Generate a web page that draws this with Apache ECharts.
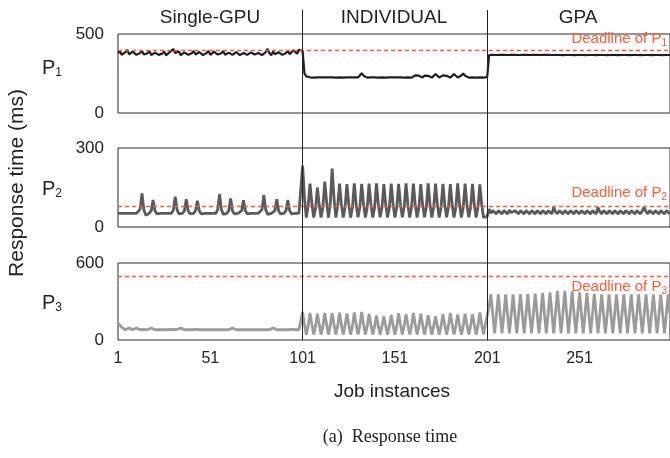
<!DOCTYPE html>
<html>
<head>
<meta charset="utf-8">
<script src="https://cdn.jsdelivr.net/npm/echarts@6/dist/echarts.min.js"></script>
<style>
  html, body { margin: 0; padding: 0; background: #fff; }
  #chart { width: 670px; height: 458px; }
</style>
</head>
<body>
<div id="chart"></div>
<script>
// 三个任务在三种调度方式下的响应时间
const phases = ['Single-GPU', 'INDIVIDUAL', 'GPA']
const xTicks = ['1', '51', '101', '151', '201', '251']
const yMax = [500, 300, 600]
const deadlines = [400, 80, 500]

// P1
const p1Single = [
  378, 392, 368, 362, 385, 400, 372, 365, 388, 395,
  368, 362, 380, 393, 370, 360, 378, 392, 366, 360,
  382, 394, 368, 362, 376, 390, 365, 360, 385, 396,
  405, 380, 372, 390, 366, 362, 384, 394, 368, 360,
  378, 392, 370, 362, 386, 395, 366, 360, 380, 393,
  368, 362, 388, 396, 370, 362, 378, 392, 368, 360,
  382, 394, 368, 362, 386, 394, 366, 360, 380, 392,
  368, 362, 384, 396, 370, 363, 380, 392, 366, 362,
  385, 406, 380, 365, 390, 372, 362, 385, 392, 368,
  362, 380, 394, 372, 378, 398, 404, 375, 400, 392
]
const p1Individual = [
  392, 250, 232, 228, 226, 225, 224, 225, 226, 225,
  225, 224, 225, 226, 225, 224, 225, 225, 224, 225,
  226, 225, 224, 225, 225, 224, 225, 226, 225, 224,
  225, 238, 252, 236, 225, 224, 225, 225, 224, 225,
  225, 224, 225, 226, 225, 224, 225, 225, 224, 225,
  226, 225, 224, 225, 225, 224, 225, 226, 225, 224,
  226, 238, 248, 236, 226, 224, 237, 247, 235, 225,
  224, 236, 247, 236, 225, 226, 238, 248, 235, 225,
  224, 236, 247, 235, 225, 225, 237, 250, 236, 225,
  224, 225, 226, 225, 224, 225, 226, 225, 224, 225
]
const p1Gpa = [
  228, 366, 369, 368, 368, 367, 368, 368, 367, 368,
  368, 367, 368, 368, 367, 368, 368, 367, 368, 368,
  367, 368, 368, 367, 368, 368, 367, 368, 368, 367,
  368, 368, 367, 368, 368, 367, 366, 367, 368, 367,
  367, 366, 367, 367, 366, 367, 367, 366, 367, 367,
  366, 367, 367, 366, 367, 367, 366, 367, 367, 366,
  367, 367, 366, 367, 367, 366, 367, 367, 366, 367,
  367, 366, 367, 367, 366, 367, 367, 366, 367, 367,
  366, 367, 367, 366, 367, 367, 366, 367, 367, 366,
  367, 367, 366, 367, 367, 366, 367, 367, 366, 367
]

// P2
const p2Single = [
  52, 52, 52, 52, 52, 52, 52, 52, 52, 52,
  52, 52, 68, 128, 66, 45, 50, 52, 62, 103,
  62, 50, 52, 52, 52, 52, 52, 52, 52, 52,
  65, 115, 65, 50, 52, 52, 62, 105, 62, 50,
  52, 52, 62, 100, 62, 50, 52, 52, 52, 52,
  52, 52, 52, 52, 66, 125, 66, 48, 52, 52,
  62, 108, 62, 50, 52, 52, 52, 62, 102, 62,
  50, 52, 52, 52, 52, 52, 52, 52, 66, 122,
  66, 48, 52, 52, 52, 62, 105, 62, 50, 52,
  52, 62, 103, 62, 50, 52, 52, 52, 52, 52
]
const p2Individual = [
  232, 110, 36, 80, 165, 90, 36, 70, 150, 85,
  36, 75, 172, 95, 36, 90, 222, 110, 36, 80,
  165, 85, 36, 75, 163, 85, 36, 75, 166, 85,
  37, 75, 164, 85, 36, 75, 165, 85, 36, 75,
  166, 85, 37, 75, 163, 85, 36, 75, 165, 85,
  36, 75, 164, 85, 37, 75, 166, 85, 36, 75,
  165, 85, 36, 75, 163, 85, 37, 75, 166, 85,
  36, 75, 165, 85, 36, 75, 164, 85, 37, 75,
  163, 85, 36, 75, 166, 85, 36, 75, 165, 85,
  37, 75, 164, 85, 36, 75, 162, 85, 36, 42
]
const p2Gpa = [
  40, 68, 52, 62, 55, 50, 62, 55, 50, 62,
  55, 50, 64, 55, 50, 62, 55, 50, 62, 55,
  50, 62, 55, 50, 62, 55, 50, 62, 55, 50,
  62, 55, 50, 62, 55, 50, 74, 58, 50, 62,
  55, 50, 62, 55, 50, 62, 55, 50, 62, 55,
  50, 62, 55, 50, 62, 55, 50, 62, 55, 50,
  74, 58, 50, 62, 55, 50, 62, 55, 50, 62,
  55, 50, 62, 55, 50, 62, 55, 50, 62, 55,
  50, 62, 55, 50, 62, 74, 58, 50, 62, 55,
  50, 62, 55, 50, 62, 55, 50, 62, 55, 50
]

// P3
const p3Single = [
  132, 126, 98, 84, 80, 80, 94, 82, 80, 80,
  94, 82, 80, 94, 82, 80, 80, 80, 94, 82,
  80, 80, 80, 80, 80, 80, 80, 94, 82, 80,
  80, 94, 82, 80, 94, 82, 80, 80, 80, 80,
  80, 94, 82, 80, 80, 80, 80, 80, 80, 80,
  80, 80, 80, 80, 80, 80, 80, 80, 80, 80,
  80, 80, 94, 82, 80, 80, 80, 80, 80, 80,
  80, 80, 80, 80, 80, 80, 80, 80, 80, 80,
  80, 80, 80, 80, 94, 82, 80, 80, 80, 80,
  80, 80, 80, 94, 82, 80, 80, 80, 80, 85
]
const p3Individual = [
  218, 120, 42, 110, 210, 120, 42, 110, 205, 118,
  42, 110, 210, 120, 42, 112, 208, 120, 42, 110,
  212, 120, 42, 112, 206, 118, 42, 110, 215, 122,
  42, 112, 218, 122, 42, 110, 205, 118, 42, 108,
  190, 112, 42, 108, 185, 110, 42, 108, 195, 115,
  42, 110, 208, 120, 42, 110, 200, 118, 42, 110,
  210, 120, 42, 110, 205, 118, 42, 108, 192, 112,
  42, 108, 185, 110, 42, 108, 200, 118, 42, 110,
  210, 120, 42, 110, 198, 115, 42, 110, 205, 118,
  42, 110, 200, 118, 42, 112, 215, 120, 42, 120
]
const p3Gpa = [
  130, 260, 356, 200, 52, 200, 356, 200, 52, 200,
  356, 200, 52, 200, 356, 200, 52, 200, 358, 200,
  52, 200, 360, 200, 52, 202, 362, 202, 52, 202,
  368, 205, 52, 205, 372, 208, 52, 208, 382, 212,
  52, 212, 382, 212, 52, 210, 378, 210, 52, 208,
  372, 208, 52, 205, 366, 205, 52, 202, 360, 202,
  52, 200, 356, 200, 52, 200, 356, 200, 52, 200,
  356, 200, 52, 200, 356, 200, 52, 200, 356, 200,
  52, 200, 356, 200, 52, 200, 356, 200, 52, 200,
  356, 200, 52, 200, 356, 200, 52, 200, 356, 200
]

const jobs = []
for (let i = 1; i <= p1Single.length * 3; i++) jobs.push(String(i))

const seriesData = [
  p1Single.concat(p1Individual, p1Gpa),
  p2Single.concat(p2Individual, p2Gpa),
  p3Single.concat(p3Individual, p3Gpa)
]
const lineColors = ['#1e1e1e', '#5a5a5a', '#9b9b9b']
const lineWidths = [2.2, 2.8, 2.8]
const deadlineColor = '#f0603a'
const labelPos = [
  { position: 'insideEndTop', distance: [3, 2] },
  { position: 'insideEndTop', distance: [3, 4] },
  { position: 'insideEndBottom', distance: [3, 2] }
]

const font = 'Liberation Sans, Arial, sans-serif'
const gridTops = [34, 148, 263]
const gridHeights = [79, 79, 77]

const chart = echarts.init(document.getElementById('chart'), null, { renderer: 'canvas' })

const grids = gridTops.map((top, i) => ({
  left: 118, right: -1, top: top, height: gridHeights[i],
  show: true, borderColor: '#2a2a2a', borderWidth: 1, backgroundColor: 'transparent'
}))
// 背景网格, 用来画分隔竖线
grids.push({ left: 118, right: -1, top: 10, height: 330, show: false })

const xAxes = [0, 1, 2, 3].map(i => ({
  type: 'category',
  gridIndex: i,
  data: jobs,
  boundaryGap: false,
  show: i !== 3,
  axisLine: { show: false },
  axisTick: { show: false },
  splitLine: { show: false },
  axisLabel: {
    show: i === 2,
    interval: (idx, val) => xTicks.indexOf(val) >= 0,
    fontFamily: font, fontSize: 16, color: '#222', margin: 11
  }
}))

const yAxes = [0, 1, 2].map(i => ({
  type: 'value',
  gridIndex: i,
  min: 0, max: yMax[i], interval: yMax[i],
  axisLine: { show: false },
  axisTick: { show: false },
  splitLine: { show: false },
  axisLabel: { fontFamily: font, fontSize: 17, color: '#222', margin: 14 }
}))
yAxes.push({ type: 'value', gridIndex: 3, min: 0, max: 1, show: false })

const series = seriesData.map((d, i) => ({
  type: 'line',
  xAxisIndex: i, yAxisIndex: i,
  data: d,
  symbol: 'none',
  lineStyle: { color: lineColors[i], width: lineWidths[i] },
  silent: true,
  markLine: {
    silent: true,
    symbol: 'none',
    lineStyle: { color: deadlineColor, type: [4, 3], width: 1.3 },
    label: {
      position: labelPos[i].position,
      distance: labelPos[i].distance,
      formatter: '{a|Deadline of P}{b|' + (i + 1) + '}',
      rich: {
        a: { fontFamily: font, fontSize: 15, color: deadlineColor },
        b: { fontFamily: font, fontSize: 10, color: deadlineColor, verticalAlign: 'bottom', padding: [8, 0, 0, 0] }
      }
    },
    data: [{ yAxis: deadlines[i] }]
  }
}))
series.push({
  type: 'line',
  xAxisIndex: 3, yAxisIndex: 3,
  data: [],
  silent: true,
  markLine: {
    silent: true,
    symbol: 'none',
    label: { show: false },
    lineStyle: { color: '#222', type: 'solid', width: 1 },
    data: [{ xAxis: '101' }, { xAxis: '201' }]
  }
})

const headerX = [210, 394, 578]
const graphic = phases.map((p, i) => ({
  type: 'text', x: headerX[i], y: 18,
  style: { text: p, font: '19px ' + font, fill: '#222', textAlign: 'center', textVerticalAlign: 'middle' }
}))
const pY = [68, 189, 303]
pY.forEach((y, i) => {
  graphic.push({
    type: 'text', x: 42, y: y,
    style: {
      text: '{p|P}{s|' + (i + 1) + '}',
      textVerticalAlign: 'middle',
      rich: {
        p: { fontFamily: font, fontSize: 20, fill: '#222' },
        s: { fontFamily: font, fontSize: 12, fill: '#222', verticalAlign: 'bottom', padding: [10, 0, 0, 0] }
      }
    }
  })
})
graphic.push({
  type: 'text', x: 17, y: 183, rotation: Math.PI / 2,
  style: { text: 'Response time (ms)', font: '21px ' + font, fill: '#222', textAlign: 'center', textVerticalAlign: 'middle' }
})
graphic.push({
  type: 'text', x: 392, y: 392,
  style: { text: 'Job instances', font: '19px ' + font, fill: '#222', textAlign: 'center', textVerticalAlign: 'middle' }
})
graphic.push({
  type: 'text', x: 390, y: 437,
  style: { text: '(a)  Response time', font: '18px Liberation Serif, Times New Roman, serif', fill: '#222', textAlign: 'center', textVerticalAlign: 'middle' }
})

chart.setOption({
  animation: false,
  grid: grids,
  xAxis: xAxes,
  yAxis: yAxes,
  series: series,
  graphic: graphic
})
</script>
</body>
</html>
